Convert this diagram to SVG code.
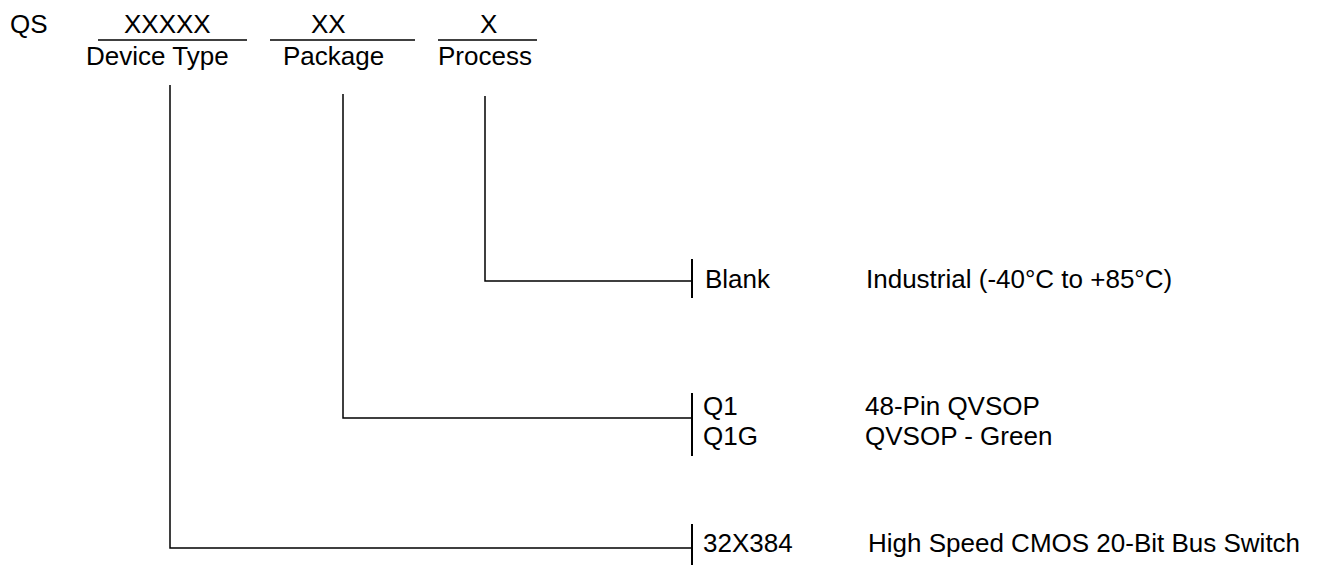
<svg xmlns="http://www.w3.org/2000/svg" width="1321" height="565" viewBox="0 0 1321 565">
<style>
text{font-family:"Liberation Sans",Arial,sans-serif;font-size:26px;fill:#000}
.ln{stroke:#000;stroke-width:1.5;fill:none}
.tk{stroke:#000;stroke-width:2;fill:none}
</style>
<rect width="1321" height="565" fill="#fff"/>
<g id="header">
<text x="10" y="33">QS</text>
<g id="device-type-field">
<text x="124" y="33">XXXXX</text>
<line class="ln" x1="98" y1="40" x2="247" y2="40"/>
<text x="86" y="65">Device Type</text>
</g>
<g id="package-field">
<text x="311" y="33">XX</text>
<line class="ln" x1="270" y1="40" x2="415" y2="40"/>
<text x="283" y="65">Package</text>
</g>
<g id="process-field">
<text x="480" y="33">X</text>
<line class="ln" x1="438" y1="40" x2="537" y2="40"/>
<text x="438" y="65">Process</text>
</g>
</g>
<g id="connectors">
<polyline class="ln" points="485,96 485,281 692,281"/>
<polyline class="ln" points="343,94 343,418 692,418"/>
<polyline class="ln" points="170,85 170,548 692,548"/>
<line class="tk" x1="692" y1="259" x2="692" y2="298"/>
<line class="tk" x1="692" y1="393" x2="692" y2="456"/>
<line class="tk" x1="692" y1="524" x2="692" y2="565"/>
</g>
<g id="process-options">
<text x="705" y="288">Blank</text>
<text x="866" y="288">Industrial (-40°C to +85°C)</text>
</g>
<g id="package-options">
<text x="703" y="415">Q1</text>
<text x="703" y="445">Q1G</text>
<text x="865" y="415">48-Pin QVSOP</text>
<text x="865" y="445">QVSOP - Green</text>
</g>
<g id="device-options">
<text x="703" y="552">32X384</text>
<text x="868" y="552">High Speed CMOS 20-Bit Bus Switch</text>
</g>
</svg>
